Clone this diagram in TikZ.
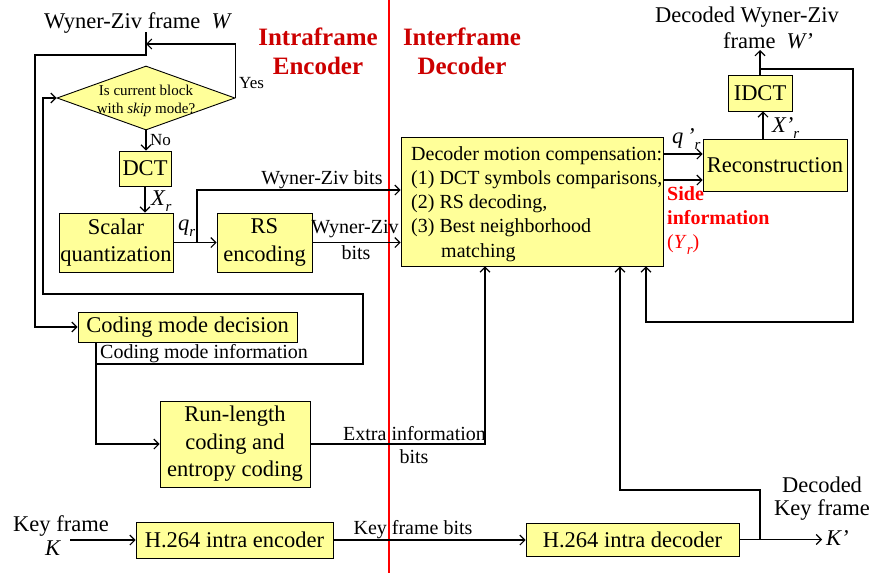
\documentclass[tikz,border=0pt]{standalone}
\usepackage{fontspec}
\setmainfont{Liberation Serif}
\usetikzlibrary{arrows.meta,shapes.geometric,shadows}
\definecolor{boxfill}{RGB}{255,255,153}
\definecolor{hdred}{RGB}{204,0,0}
\definecolor{sidered}{RGB}{255,0,0}
\newcommand\fsbig{\fontsize{22.5}{27.5}\selectfont}
\newcommand\fsmid{\fontsize{20}{24.3}\selectfont}
\newcommand\fssmall{\fontsize{15}{18}\selectfont}
\newcommand\fsyn{\fontsize{17}{20}\selectfont}
\newcommand\fshead{\fontsize{25}{30}\selectfont\bfseries}
\newcommand\lowsub[1]{\raisebox{-0.3em}{\fontsize{15}{15}\selectfont\textit{#1}}}
\tikzset{
  box/.style={draw=black, line width=0.9pt, fill=boxfill, inner sep=0pt,
    align=center, font=\fsbig,
    drop shadow={shadow xshift=1.3pt, shadow yshift=-1.3pt, fill=black!50, opacity=1}},
  diam/.style={draw=black, line width=0.9pt, fill=boxfill, shape=diamond,
    inner sep=0pt, minimum width=178pt, minimum height=64pt},
  lbl/.style={font=\fsmid, inner sep=0pt},
  biglbl/.style={font=\fsbig, inner sep=0pt},
  hdr/.style={font=\fshead, text=hdred, inner sep=0pt},
  side/.style={font=\fsmid\bfseries, text=sidered, inner sep=0pt},
  conn/.style={line width=1.1pt, -{Straight Barb[length=5pt,width=10pt]}}
}
\begin{document}
\begin{tikzpicture}[x=1pt, y=-1pt]
\useasboundingbox (0,0) rectangle (873,573);

% ---------------- encoder blocks ----------------
\node[diam] (skip) at (146,98) {};
\node[font=\fssmall, align=center, inner sep=0pt] (skiptxt) at (146,101)
  {Is current block\\with \textit{skip} mode?};
\node[box, minimum width=52pt, minimum height=35pt] (dct) at (145,168.5) {DCT};
\node[box, minimum width=114pt, minimum height=59pt] (sq) at (116,242.5) {Scalar\\quantization};
\node[box, minimum width=95pt, minimum height=59pt] (rs) at (264.5,242.5) {RS\\encoding};
\node[box, minimum width=219pt, minimum height=30pt] (cmd) at (187.5,327) {Coding mode decision};
\node[box, minimum width=150pt, minimum height=86pt] (rl) at (235,444) {Run-length\\coding and\\entropy coding};
\node[box, minimum width=197pt, minimum height=36pt] (enc) at (234.5,540) {H.264 intra encoder};

% ---------------- decoder blocks ----------------
\node[box, minimum width=262pt, minimum height=129pt] (dmc) at (532,201.5) {};
\node[font=\fsmid, align=left, inner sep=0pt, anchor=north west] (dmctxt) at (411,146)
  {Decoder motion compensation:\\(1) DCT symbols comparisons,\\(2) RS decoding,\\(3) Best neighborhood\\\hspace*{30pt}matching};
\node[box, minimum width=144pt, minimum height=52pt] (rec) at (775,165) {Reconstruction};
\node[box, minimum width=64pt, minimum height=36pt] (idct) at (760,93) {IDCT};
\node[box, minimum width=213pt, minimum height=33pt] (dec) at (632.5,539.5) {H.264 intra decoder};

% ---------------- encoder/decoder border ----------------
\draw[sidered, line width=2.6pt] (389,0) -- (389,573);

% ---------------- free ends and junctions ----------------
\coordinate (win) at (146,32);
\coordinate (qb) at (197,242.5);
\coordinate (cmi) at (96,364);
\coordinate (kin) at (70,540);
\coordinate (kout) at (dec.east -| 822,0);
\coordinate (kb) at (dec.east -| 760,0);
\coordinate (wout) at (760,50);
\coordinate (fb) at (760,69);

% ---------------- encoder connectors ----------------
\draw[conn] (win) -- (146,55) -- (35,55) |- (cmd.west);
\draw[conn] (skip.east) |- (146,44);
\draw[conn] (skip.south) -- (skip.south |- dct.north);
\draw[conn] (dct.south) -- (dct.south |- sq.north);
\draw[conn] (sq.east) -- (rs.west);
\draw[conn] (qb) -- (197,190) -- (dmc.west |- 0,190);
\draw[conn] (rs.east) -- (rs.east -| dmc.west);
\draw[conn] (cmd.south -| 96,0) |- (rl.west);
\draw[conn] (cmi) -| (363,294) -| (skip.west -| 43,0) -- (skip.west);
\draw[conn] (rl.east) -| (dmc.south -| 485,0);
\draw[conn] (kin) -- (enc.west);
\draw[conn] (enc.east) -- (enc.east -| dec.west);

% ---------------- decoder connectors ----------------
\draw[conn] (dec.east) -- (kout);
\draw[conn] (kb) -- (760,490) -| (dmc.south -| 620,0);
\draw[conn] (dmc.east |- 0,154) -- (rec.west |- 0,154);
\draw[conn] (dmc.east |- 0,180) -- (rec.west |- 0,180);
\draw[conn] (rec.north -| 763,0) -- (idct.south -| 763,0);
\draw[conn] (idct.north) -- (wout);
\draw[conn] (fb) -| (853,322) -| (dmc.south -| 646,0);

% ---------------- headings ----------------
\node[hdr, anchor=base] (h1) at (318,45) {Intraframe};
\node[hdr, anchor=base] (h2) at (318,74) {Encoder};
\node[hdr, anchor=base] (h3) at (462,45) {Interframe};
\node[hdr, anchor=base] (h4) at (462,74) {Decoder};

% ---------------- labels ----------------
\node[biglbl, anchor=base] (lw) at (138,28) {Wyner-Ziv frame\ \ \textit{W}};
\node[font=\fsyn, inner sep=0pt, anchor=base west] (lyes) at (239,88) {Yes};
\node[font=\fsyn, inner sep=0pt, anchor=base west] (lno) at (150,145) {No};
\node[biglbl, anchor=base west] (lx) at (151,205) {\textit{X}\lowsub{r}};
\node[biglbl, anchor=base west] (lq) at (178,230) {\textit{q}\lowsub{r}};
\node[lbl, anchor=base] (lwz1) at (322,184) {Wyner-Ziv bits};
\node[lbl, anchor=base] (lwz2) at (355,233) {Wyner-Ziv};
\node[lbl, anchor=base] (lwz3) at (356,259) {bits};
\node[lbl, anchor=base west] (lcmi) at (100,358) {Coding mode information};
\node[lbl, anchor=base west] (lext) at (343,440) {Extra information};
\node[lbl, anchor=base] (lext2) at (414,463) {bits};
\node[biglbl, anchor=base] (lkf) at (61,531) {Key frame};
\node[biglbl, anchor=base] (lk) at (53,555) {\textit{K}};
\node[lbl, anchor=base] (lkfb) at (413,534) {Key frame bits};
\node[biglbl, anchor=base] (ldk1) at (822,492) {Decoded};
\node[biglbl, anchor=base] (ldk2) at (822,515) {Key frame};
\node[biglbl, anchor=base west] (ldk3) at (826,545) {\textit{K’}};
\node[biglbl, anchor=base] (ldw1) at (747,22) {Decoded Wyner-Ziv};
\node[biglbl, anchor=base] (ldw2) at (768,48) {frame\ \ \textit{W’}};
\node[biglbl, anchor=base west] (lqp) at (672,143) {\textit{q\,’}\lowsub{r}};
\node[biglbl, anchor=base west] (lxp) at (772,132) {\textit{X’}\lowsub{r}};
\node[side, anchor=base west] (ls1) at (667,200) {Side};
\node[side, anchor=base west] (ls2) at (667,224) {information};
\node[lbl, text=sidered, anchor=base west] (ls3) at (667,248) {(\textit{Y}\lowsub{r})};
\end{tikzpicture}
\end{document}
